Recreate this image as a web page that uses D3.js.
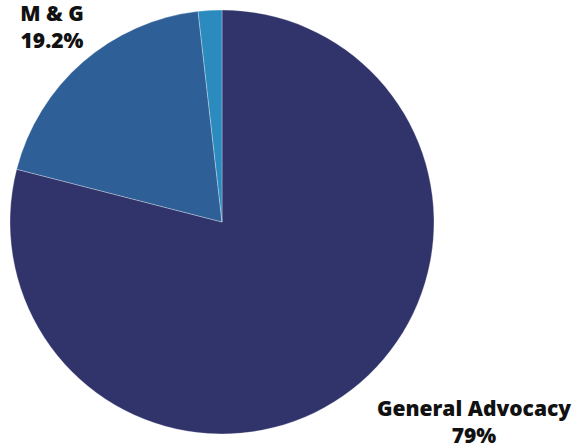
<!DOCTYPE html>
<html><head><meta charset="utf-8">
<script src="https://cdn.jsdelivr.net/npm/d3@7"></script>
<style>body{margin:0;background:#fff}svg{display:block}</style>
</head><body><svg id="c" width="573" height="448"></svg>
<script>
const categories = ["General Advocacy", "M & G", "Other"];
const values = [79, 19.2, 1.8];
const labels = ["79%", "19.2%", ""];
const colors = ["#31346b", "#2e5f97", "#2b8bbf"];

const svg = d3.select("#c");
const cx = 222, cy = 222, r = 212;
const pie = d3.pie().sort(null).value(d => d)(values);
const arc = d3.arc().innerRadius(0).outerRadius(r);
const g = svg.append("g").attr("transform", `translate(${cx},${cy})`);
g.selectAll("path").data(pie).join("path")
  .attr("d", arc).attr("fill", (d, i) => colors[i])
  .attr("stroke", "#fff").attr("stroke-width", 0.3);

const lab = [
  {i: 1, x: 52, y1: 21, y2: 48},
  {i: 0, x: 474, y1: 416, y2: 443}
];
lab.forEach(l => {
  const t = svg.append("text")
    .attr("text-anchor", "middle")
    .style("font-family", "'Open Sans', sans-serif")
    .style("font-weight", 800).style("font-size", "21px").attr("fill", "#111");
  t.append("tspan").attr("x", l.x).attr("y", l.y1).text(categories[l.i]);
  t.append("tspan").attr("x", l.x).attr("y", l.y2).text(labels[l.i]);
});
</script></body></html>
